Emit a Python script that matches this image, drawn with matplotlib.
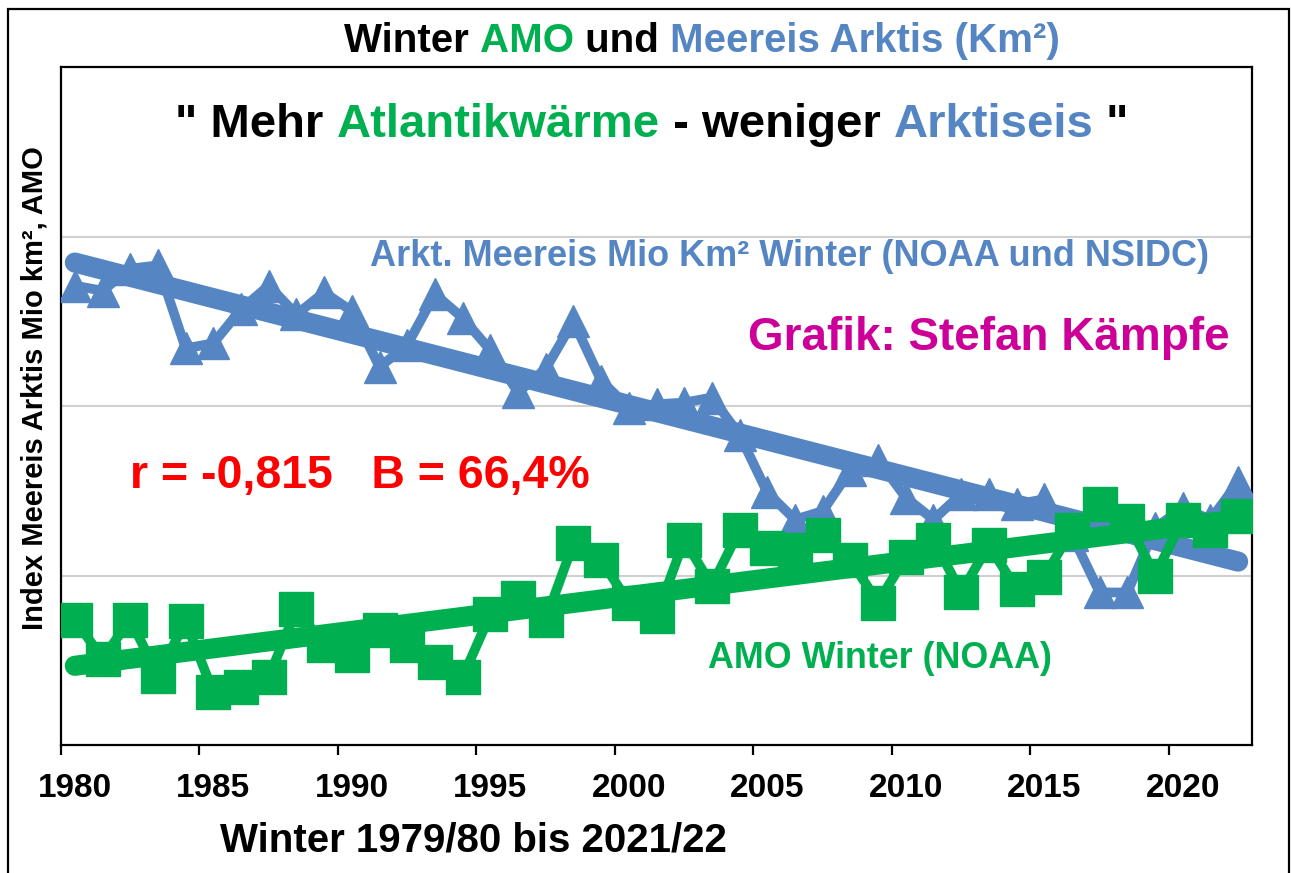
import numpy as np
import matplotlib.pyplot as plt
from matplotlib.patches import Rectangle

# Winter 1979/80 .. 2021/22, index units (gridline spacing = 1)
years = np.arange(1980, 2023)
ice = [2.71, 2.68, 2.81, 2.83, 2.34, 2.37, 2.57, 2.71, 2.54, 2.67,
       2.56, 2.23, 2.36, 2.66, 2.52, 2.33, 2.08, 2.22, 2.50, 2.15,
       1.99, 2.01, 2.02, 2.05, 1.83, 1.49, 1.33, 1.38, 1.62, 1.68,
       1.46, 1.33, 1.48, 1.48, 1.42, 1.45, 1.24, 0.90, 0.90, 1.28,
       1.40, 1.33, 1.55]
amo = [0.74, 0.51, 0.74, 0.41, 0.73, 0.31, 0.34, 0.40, 0.80, 0.59,
       0.53, 0.68, 0.59, 0.49, 0.40, 0.77, 0.87, 0.74, 1.19, 1.09,
       0.84, 0.76, 1.21, 0.94, 1.27, 1.16, 1.15, 1.24, 1.09, 0.84,
       1.11, 1.21, 0.90, 1.18, 0.92, 0.99, 1.27, 1.42, 1.32, 1.00,
       1.33, 1.27, 1.35]
tick_years = [1980, 1985, 1990, 1995, 2000, 2005, 2010, 2015, 2020]

BLUE = '#5586C3'
GREEN = '#00B050'
MAGENTA = '#CC0099'
RED = '#FF0000'
FONT = 'Liberation Sans'

W, H = 1291, 873
fig = plt.figure(figsize=(W / 100, H / 100), dpi=100)
plt.rcParams['font.family'] = FONT


def fx(px):
    return px / W


def fy(py):
    return 1 - py / H


ax = fig.add_axes([fx(61), fy(745), fx(1252) - fx(61), fy(67) - fy(745)])

# series
ax.plot(years, ice, color=BLUE, lw=7, marker='^', ms=23, zorder=3)
k, d = np.polyfit(years, ice, 1)
ax.plot([years[0], years[-1]], [k * years[0] + d, k * years[-1] + d],
        color=BLUE, lw=14.5, solid_capstyle='round', zorder=4)
ax.plot(years, amo, color=GREEN, lw=7, marker='s', ms=24, zorder=5)
k2, d2 = np.polyfit(years, amo, 1)
ax.plot([years[0], years[-1]], [k2 * years[0] + d2, k2 * years[-1] + d2],
        color=GREEN, lw=14.5, solid_capstyle='round', zorder=6)

ax.set_xlim(1979.5, 2022.5)
ax.set_ylim(0, 4)
ax.set_yticks([1, 2, 3])
ax.set_yticklabels([])
ax.tick_params(axis='y', length=0)
ax.grid(axis='y', color='#D0D0D0', lw=1.5, zorder=0)
ax.set_axisbelow(True)

# Excel-style category axis: ticks between categories, labels centred
ax.set_xticks([y - 0.5 for y in tick_years])
ax.set_xticklabels([])
ax.tick_params(axis='x', which='major', length=7.5, width=1.6, color='black')
ax.set_xticks(tick_years, minor=True)
ax.set_xticklabels([str(y) for y in tick_years], minor=True,
                   fontsize=24, fontweight='bold')
ax.tick_params(axis='x', which='minor', length=0, pad=20)
for s in ax.spines.values():
    s.set_linewidth(1.6)
    s.set_color('black')


def multi(x, y, parts, **kw):
    t = fig.text(fx(x), fy(y), parts[0][0], color=parts[0][1],
                 va='baseline', ha='left', **kw)
    for txt, col in parts[1:]:
        t = ax.annotate(txt, xy=(1, 0), xycoords=t, va='bottom', ha='left',
                        color=col, annotation_clip=False, **kw)


multi(344, 52, [('Winter ', 'black'), ('AMO', GREEN), (' und ', 'black'),
                ('Meereis Arktis (Km²)', BLUE)], fontsize=29, fontweight='bold')
multi(175, 137, [('" Mehr ', 'black'), ('Atlantikwärme', GREEN),
                 (' - weniger ', 'black'), ('Arktiseis', BLUE), (' "', 'black')],
      fontsize=34, fontweight='bold')

fig.text(fx(370), fy(266), 'Arkt. Meereis Mio Km² Winter (NOAA und NSIDC)',
         color=BLUE, fontsize=26, fontweight='bold', va='baseline')
fig.text(fx(748), fy(350), 'Grafik: Stefan Kämpfe', color=MAGENTA,
         fontsize=33, fontweight='bold', va='baseline')
fig.text(fx(130), fy(488), 'r = -0,815   B = 66,4%', color=RED,
         fontsize=33.5, fontweight='bold', va='baseline')
fig.text(fx(708), fy(668), 'AMO Winter (NOAA)', color=GREEN,
         fontsize=25.8, fontweight='bold', va='baseline')
fig.text(fx(220), fy(852), 'Winter 1979/80 bis 2021/22', color='black',
         fontsize=29, fontweight='bold', va='baseline')
fig.text(fx(35), fy(388), 'Index Meereis Arktis Mio km², AMO', rotation=90,
         fontsize=21, fontweight='bold', va='center', ha='center')

fig.add_artist(Rectangle((fx(8), -0.1), fx(1289) - fx(8), fy(9) + 0.1,
                         transform=fig.transFigure, fill=False,
                         lw=1.6, ec='black'))

fig.savefig('out.png', dpi=100)
